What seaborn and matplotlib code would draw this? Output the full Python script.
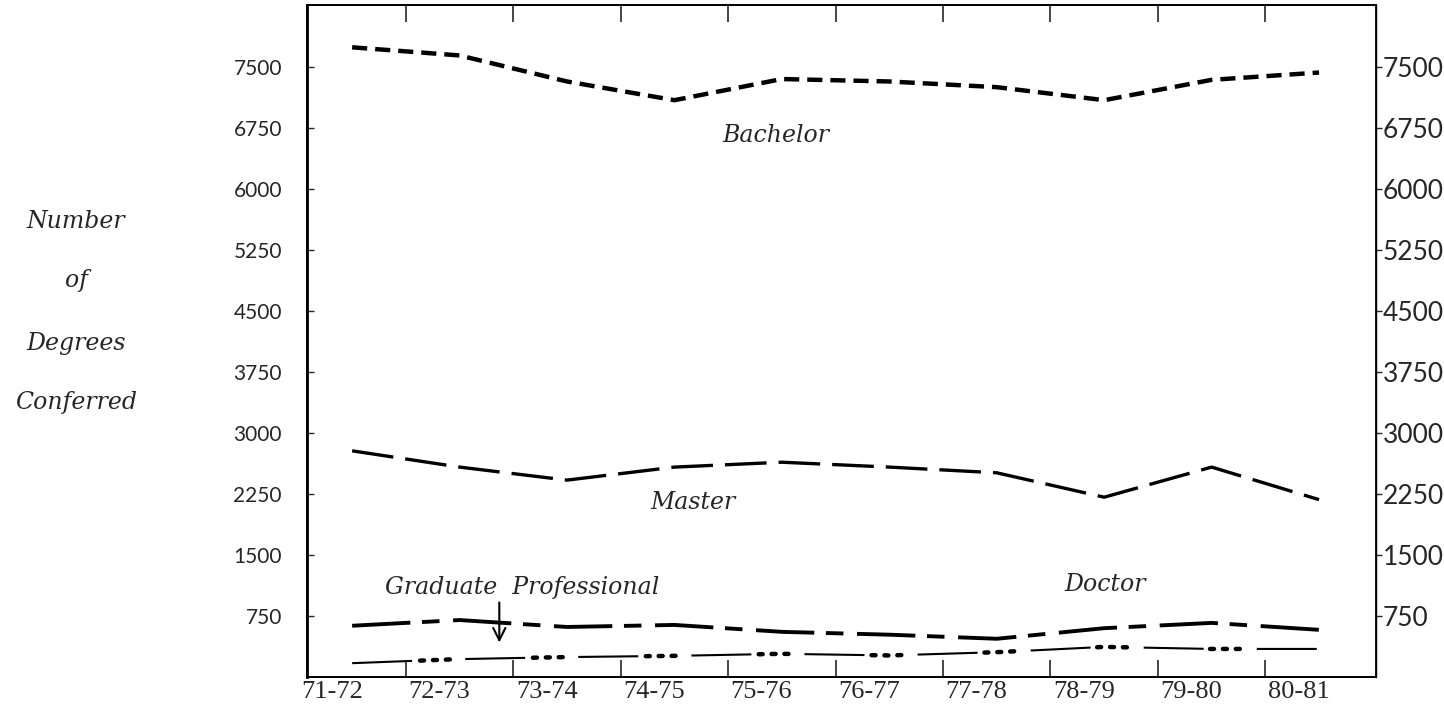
import numpy as np
import pandas as pd
import seaborn as sns
from matplotlib import pyplot as plt

# 学年 - one point per academic year
years = ['71-72', '72-73', '73-74', '74-75', '75-76',
         '76-77', '77-78', '78-79', '79-80', '80-81']
bachelor = [7740, 7640, 7320, 7090, 7350, 7320, 7250, 7090, 7340, 7430]
master = [2780, 2580, 2420, 2580, 2640, 2580, 2510, 2210, 2580, 2180]
professional = [630, 700, 615, 640, 555, 520, 470, 600, 665, 580]
doctor = [170, 220, 245, 260, 285, 265, 305, 370, 345, 345]
y_ticks = [750, 1500, 2250, 3000, 3750, 4500, 5250, 6000, 6750, 7500]


def build_frame():
    rows = []
    for name, vals in [('Bachelor', bachelor), ('Master', master),
                       ('Graduate Professional', professional), ('Doctor', doctor)]:
        for i, v in enumerate(vals):
            rows.append({'pos': i, 'year': years[i], 'degree': name, 'count': v})
    return pd.DataFrame(rows)


def draw_chart(df):
    sns.set_style('ticks')
    plt.rcParams['font.family'] = ['DejaVu Sans']

    fig = plt.figure(figsize=(14.44, 7.06), dpi=100)
    ax = fig.add_axes([307 / 1444, 1 - 677 / 706, (1376 - 307) / 1444, (677 - 5) / 706])

    # line styles per degree: (linewidth, linestyle)
    styles = {
        'Bachelor': (3.2, (0, (3.4, 1.8))),
        'Master': (2.4, (0, (12.5, 3.6))),
        'Graduate Professional': (2.8, (0, (15, 3, 4.5, 3.5))),
    }
    for name, (lw, ls) in styles.items():
        sns.lineplot(data=df[df['degree'] == name], x='pos', y='count', ax=ax,
                     color='black', linewidth=lw, linestyle=ls, legend=False)

    # doctor: thin long dash followed by three heavy dots
    doc = df[df['degree'] == 'Doctor']
    sns.lineplot(data=doc, x='pos', y='count', ax=ax, color='black',
                 linewidth=1.5, linestyle=(0, (28.8, 25.5)), legend=False)
    sns.lineplot(data=doc, x='pos', y='count', ax=ax, color='black',
                 linewidth=3.2, linestyle=(10.1, (0.9, 2.0, 0.9, 2.0, 0.9, 18.7)),
                 dash_capstyle='round', legend=False)

    ax.set_xlim(-0.42, 9.53)
    ax.set_ylim(0, 8260)
    ax.set_xlabel('')
    ax.set_ylabel('')

    # typed year labels sit a bit left of the data columns, ticks between columns
    ax.set_xticks(np.arange(len(years)) - 0.19)
    ax.set_xticklabels(years, family='Liberation Serif', size=19)
    ax.set_xticks(np.arange(len(years) - 1) + 0.5, minor=True)
    ax.tick_params(axis='x', which='major', length=0, pad=3)
    ax.tick_params(axis='x', which='minor', direction='in', length=12, width=1.2,
                   top=True, bottom=True)

    ax.set_yticks(y_ticks)
    ax.set_yticklabels([str(t) for t in y_ticks], family='Lato', size=15)
    ax.tick_params(axis='y', direction='in', length=5, width=1.0, pad=18)

    # right side repeats the scale (cut off by the page edge)
    ax2 = ax.twinx()
    ax2.set_ylim(ax.get_ylim())
    ax2.set_yticks(y_ticks)
    ax2.set_yticklabels([str(t) for t in y_ticks], family='Lato', size=19)
    ax2.tick_params(axis='y', direction='out', length=4, width=1.0, pad=1)

    for a in (ax, ax2):
        for side in a.spines.values():
            side.set_linewidth(1.3)
            side.set_color('black')
    ax.spines['left'].set_linewidth(2)
    ax2.spines['right'].set_linewidth(1.0)

    # series names
    lab = dict(style='italic', family='DejaVu Serif', size=17, ha='center', va='center')
    ax.text(3.94, 6660, 'Bachelor', **lab)
    ax.text(3.17, 2140, 'Master', **lab)
    ax.text(1.58, 1094, 'Graduate  Professional', **lab)
    ax.text(7.01, 1131, 'Doctor', **lab)
    ax.annotate('', xy=(1.37, 390), xytext=(1.37, 950),
                arrowprops=dict(arrowstyle='->', lw=1.5, color='black', mutation_scale=22))

    # y title, one word per line
    ttl = dict(style='italic', family='DejaVu Serif', size=17, ha='center', va='center')
    for word, ypx in [('Number', 221), ('of', 281), ('Degrees', 343), ('Conferred', 403)]:
        fig.text(76 / 1444, 1 - ypx / 706, word, **ttl)

    fig.savefig('out.png', dpi=100)


if __name__ == '__main__':
    data = build_frame()
    draw_chart(data)
